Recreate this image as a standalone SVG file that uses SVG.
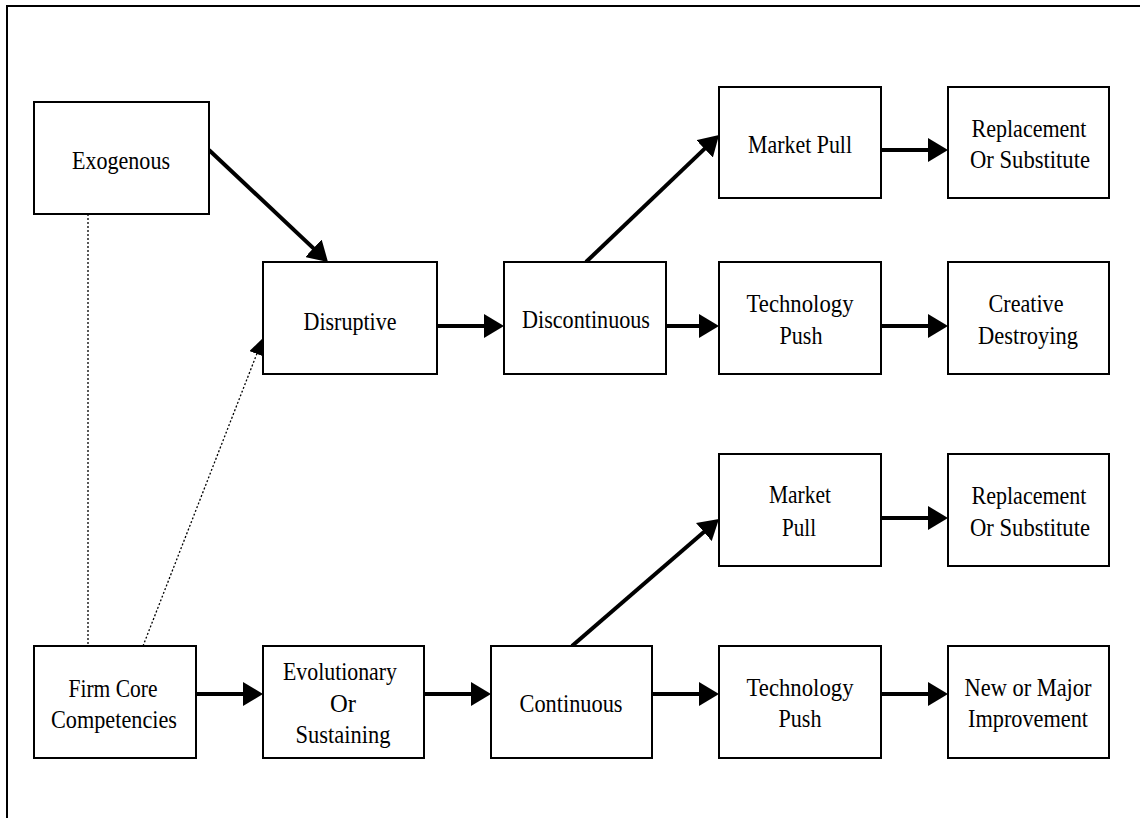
<svg xmlns="http://www.w3.org/2000/svg" width="1140" height="818" viewBox="0 0 1140 818">
<style>
.box{fill:#fff;stroke:#000;stroke-width:2}
.t{font-family:"Liberation Serif","Times New Roman",serif;font-size:26px;fill:#000;text-anchor:middle}
.c{stroke:#000;stroke-width:4;fill:none;marker-end:url(#ah)}
.d{stroke:#000;stroke-width:1.3;stroke-dasharray:2 2;fill:none}
</style>
<defs>
<marker id="ah" markerUnits="userSpaceOnUse" markerWidth="20" markerHeight="24" refX="10" refY="12" orient="auto" viewBox="0 0 20 24"><path d="M0,0 L20,12 L0,24 z" fill="#000"/></marker>
<marker id="ahs" markerUnits="userSpaceOnUse" markerWidth="17" markerHeight="16" refX="8" refY="8" orient="auto" viewBox="0 0 17 16"><path d="M0,0 L17,8 L0,16 z" fill="#000"/></marker>
</defs>
<rect width="1140" height="818" fill="#fff"/>
<path d="M1140,6 H7 V818" fill="none" stroke="#000" stroke-width="2"/>
<g id="connectors">
<line class="c" x1="209" y1="150" x2="320.7" y2="255.1"/>
<line class="c" x1="586" y1="262" x2="711.8" y2="141.9"/>
<line class="c" x1="572" y1="646" x2="711.4" y2="525.5"/>
<line class="c" x1="196" y1="694" x2="253" y2="694"/>
<line class="c" x1="437" y1="326" x2="494" y2="326"/>
<line class="c" x1="666" y1="326" x2="709" y2="326"/>
<line class="c" x1="881" y1="150" x2="938" y2="150"/>
<line class="c" x1="881" y1="326" x2="938" y2="326"/>
<line class="c" x1="424" y1="694" x2="481" y2="694"/>
<line class="c" x1="652" y1="694" x2="709" y2="694"/>
<line class="c" x1="881" y1="518" x2="938" y2="518"/>
<line class="c" x1="881" y1="694" x2="938" y2="694"/>
<line class="d" x1="88" y1="214" x2="88" y2="646"/>
<line class="d" x1="143" y1="646" x2="259.7" y2="346.5" marker-end="url(#ahs)"/>
</g>
<g id="exogenous"><rect class="box" x="34" y="102" width="175" height="112"/><text class="t" x="121" y="169" textLength="98" lengthAdjust="spacingAndGlyphs">Exogenous</text></g>
<g id="disruptive"><rect class="box" x="263" y="262" width="174" height="112"/><text class="t" x="350" y="330" textLength="93" lengthAdjust="spacingAndGlyphs">Disruptive</text></g>
<g id="discontinuous"><rect class="box" x="504" y="262" width="162" height="112"/><text class="t" x="586" y="328" textLength="128" lengthAdjust="spacingAndGlyphs">Discontinuous</text></g>
<g id="market-pull-1"><rect class="box" x="719" y="87" width="162" height="111"/><text class="t" x="800" y="153" textLength="104" lengthAdjust="spacingAndGlyphs">Market Pull</text></g>
<g id="replacement-1"><rect class="box" x="948" y="87" width="161" height="111"/><text class="t" x="1029" y="137" textLength="115" lengthAdjust="spacingAndGlyphs">Replacement</text><text class="t" x="1030" y="168" textLength="120" lengthAdjust="spacingAndGlyphs">Or Substitute</text></g>
<g id="tech-push-1"><rect class="box" x="719" y="262" width="162" height="112"/><text class="t" x="800" y="312" textLength="107" lengthAdjust="spacingAndGlyphs">Technology</text><text class="t" x="801" y="344" textLength="43" lengthAdjust="spacingAndGlyphs">Push</text></g>
<g id="creative"><rect class="box" x="948" y="262" width="161" height="112"/><text class="t" x="1026" y="312" textLength="75" lengthAdjust="spacingAndGlyphs">Creative</text><text class="t" x="1028" y="344" textLength="100" lengthAdjust="spacingAndGlyphs">Destroying</text></g>
<g id="firm-core"><rect class="box" x="34" y="646" width="162" height="112"/><text class="t" x="113" y="697" textLength="89" lengthAdjust="spacingAndGlyphs">Firm Core</text><text class="t" x="114" y="728" textLength="126" lengthAdjust="spacingAndGlyphs">Competencies</text></g>
<g id="evolutionary"><rect class="box" x="263" y="646" width="161" height="112"/><text class="t" x="340" y="680" textLength="114" lengthAdjust="spacingAndGlyphs">Evolutionary</text><text class="t" x="343" y="712" textLength="26" lengthAdjust="spacingAndGlyphs">Or</text><text class="t" x="343" y="743" textLength="95" lengthAdjust="spacingAndGlyphs">Sustaining</text></g>
<g id="continuous"><rect class="box" x="491" y="646" width="161" height="112"/><text class="t" x="571" y="712" textLength="103" lengthAdjust="spacingAndGlyphs">Continuous</text></g>
<g id="market-pull-2"><rect class="box" x="719" y="454" width="162" height="112"/><text class="t" x="800" y="503" textLength="62" lengthAdjust="spacingAndGlyphs">Market</text><text class="t" x="799" y="536" textLength="34" lengthAdjust="spacingAndGlyphs">Pull</text></g>
<g id="replacement-2"><rect class="box" x="948" y="454" width="161" height="112"/><text class="t" x="1029" y="504" textLength="115" lengthAdjust="spacingAndGlyphs">Replacement</text><text class="t" x="1030" y="536" textLength="120" lengthAdjust="spacingAndGlyphs">Or Substitute</text></g>
<g id="tech-push-2"><rect class="box" x="719" y="646" width="162" height="112"/><text class="t" x="800" y="696" textLength="107" lengthAdjust="spacingAndGlyphs">Technology</text><text class="t" x="800" y="727" textLength="43" lengthAdjust="spacingAndGlyphs">Push</text></g>
<g id="new-major"><rect class="box" x="948" y="646" width="161" height="112"/><text class="t" x="1028" y="696" textLength="127" lengthAdjust="spacingAndGlyphs">New or Major</text><text class="t" x="1028" y="727" textLength="120" lengthAdjust="spacingAndGlyphs">Improvement</text></g>
</svg>
